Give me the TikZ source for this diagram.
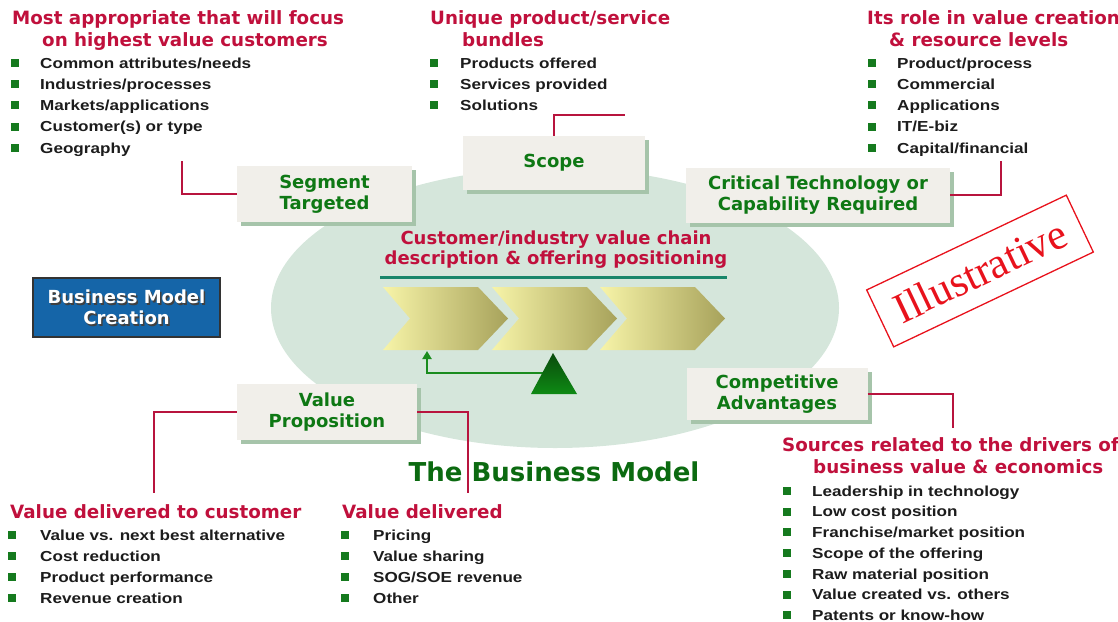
\documentclass[tikz,border=0pt]{standalone}
\usepackage{fontspec}
\setmainfont{DejaVu Sans}
\newfontfamily\listfont[FakeStretch=1.18]{Liberation Sans}
\newfontfamily\stampfont{Liberation Serif}
\usetikzlibrary{arrows.meta,shadows}
\definecolor{headred}{HTML}{C0103C}
\definecolor{linkred}{HTML}{B8143E}
\definecolor{labelgreen}{HTML}{0E7814}
\definecolor{titlegreen}{HTML}{0B6A10}
\definecolor{bulletgreen}{HTML}{157A1E}
\definecolor{listink}{HTML}{1C1C1C}
\definecolor{boxfill}{HTML}{F1EFEA}
\definecolor{boxshade}{HTML}{A6C4AA}
\definecolor{ovalfill}{HTML}{D5E6DB}
\definecolor{chainrule}{HTML}{17866A}
\definecolor{chainlight}{HTML}{F7F4A8}
\definecolor{chaindark}{HTML}{A7A25B}
\definecolor{pivotdark}{HTML}{0A4A0C}
\definecolor{pivotlight}{HTML}{0E8A14}
\definecolor{arrowgreen}{HTML}{1A8C1E}
\definecolor{creationblue}{HTML}{1565A8}
\definecolor{stampred}{HTML}{E8121C}

\begin{document}
\begin{tikzpicture}[x=1pt, y=-1pt,
    every node/.style={inner sep=0pt},
    heading/.style={headred, anchor=west, text height=13.3pt, text depth=0pt,
                    font=\bfseries\fontsize{18.3}{22}\selectfont},
    item/.style={listink, anchor=west, text height=10.4pt, text depth=0pt,
                 font=\listfont\bfseries\fontsize{14.5}{17}\selectfont},
    block/.style={fill=boxfill, text=labelgreen, align=center,
                  font=\bfseries\fontsize{18}{21}\selectfont,
                  drop shadow={shadow xshift=4pt, shadow yshift=-4pt,
                               fill=boxshade, opacity=1}},
    link/.style={linkred, line width=2pt}]

  \useasboundingbox (0,0) rectangle (1118,621);

  %% ---- the oval behind the model ----
  \fill[ovalfill] (555,308) ellipse [x radius=284, y radius=140];

  %% ---- value chain in the middle ----
  \node[headred, align=center, font=\bfseries\fontsize{18}{20}\selectfont]
    (chain-title) at (556,250)
    {Customer/industry value chain\\description \& offering positioning};
  \draw[chainrule, line width=3pt] (380,277) -- (727,277);

  \foreach \cx in {383,492,600}
    \shade[left color=chainlight, right color=chaindark]
      (\cx,287) -- ++(95,0) -- ++(30,31.5) -- ++(-30,31.5) -- ++(-95,0)
      -- ++(27,-31.5) -- cycle;

  %% feedback arrow, then the pivot on top of it
  \coordinate (pivot) at (553,373);
  \coordinate (chain-foot) at (427,351);
  \draw[arrowgreen, line width=2.5pt, -{Triangle[length=8pt, width=9pt]}]
    (pivot) -| (chain-foot);
  \shade[top color=pivotdark, bottom color=pivotlight]
    (553,353) -- (577,394) -- (531,394) -- cycle;

  %% ---- the five building blocks ----
  \node[block, minimum width=175pt, minimum height=56pt] (segment) at (324.5,194)
    {Segment\\Targeted};
  \node[block, minimum width=182pt, minimum height=54pt] (scope) at (554,163)
    {Scope};
  \node[block, minimum width=264pt, minimum height=55pt] (critical) at (818,195)
    {Critical Technology or\\Capability Required};
  \node[block, minimum width=180pt, minimum height=56pt] (value) at (327,412)
    {Value\\Proposition};
  \node[block, minimum width=181pt, minimum height=52pt] (compet) at (777,394)
    {Competitive\\Advantages};

  %% ---- red leader lines out to the lists ----
  \coordinate (seg-tail) at (182,161);
  \coordinate (scope-tail) at (625,115);
  \coordinate (crit-tail) at (1001,161);
  \coordinate (value-ltail) at (154,493);
  \coordinate (value-rtail) at (468,493);
  \coordinate (comp-tail) at (953,428);
  \draw[link] (segment.west) -| (seg-tail);
  \draw[link] (scope.north) |- (scope-tail);
  \draw[link] (critical.east) -| (crit-tail);
  \draw[link] (value.west) -| (value-ltail);
  \draw[link] (value.east) -| (value-rtail);
  \draw[link] (compet.east) -| (comp-tail);

  %% ---- top left list ----
  \node[heading] (seg-head1) at (12,18) {Most appropriate that will focus};
  \node[heading] (seg-head2) at (42,40) {on highest value customers};
  \foreach \txt [count=\i from 0] in {Common attributes/needs,
      Industries/processes, Markets/applications, Customer(s) or type, Geography}
  {
    \fill[bulletgreen] (11,{59+21.2*\i}) rectangle ++(8,8);
    \node[item] (seg-\i) at (40,{63+21.2*\i}) {\txt};
  }

  %% ---- top middle list ----
  \node[heading] (scope-head1) at (430,18) {Unique product/service};
  \node[heading] (scope-head2) at (462,40) {bundles};
  \foreach \txt [count=\i from 0] in {Products offered, Services provided, Solutions}
  {
    \fill[bulletgreen] (430,{59+21.2*\i}) rectangle ++(8,8);
    \node[item] (scope-\i) at (460,{63+21.2*\i}) {\txt};
  }

  %% ---- top right list ----
  \node[heading] (crit-head1) at (867,18) {Its role in value creation};
  \node[heading] (crit-head2) at (889,40) {\& resource levels};
  \foreach \txt [count=\i from 0] in {Product/process, Commercial, Applications,
      IT/E-biz, Capital/financial}
  {
    \fill[bulletgreen] (868,{59+21.2*\i}) rectangle ++(8,8);
    \node[item] (crit-\i) at (897,{63+21.2*\i}) {\txt};
  }

  %% ---- bottom left list ----
  \node[heading] (value-lhead) at (10,512) {Value delivered to customer};
  \foreach \txt [count=\i from 0] in {Value vs. next best alternative,
      Cost reduction, Product performance, Revenue creation}
  {
    \fill[bulletgreen] (8,{531+21*\i}) rectangle ++(8,8);
    \node[item] (value-l\i) at (40,{535+21*\i}) {\txt};
  }

  %% ---- bottom middle list ----
  \node[heading] (value-rhead) at (342,512) {Value delivered};
  \foreach \txt [count=\i from 0] in {Pricing, Value sharing, SOG/SOE revenue, Other}
  {
    \fill[bulletgreen] (341,{531+21*\i}) rectangle ++(8,8);
    \node[item] (value-r\i) at (373,{535+21*\i}) {\txt};
  }

  %% ---- bottom right list ----
  \node[heading] (comp-head1) at (782,445) {Sources related to the drivers of};
  \node[heading] (comp-head2) at (813,467) {business value \& economics};
  \foreach \txt [count=\i from 0] in {Leadership in technology, Low cost position,
      Franchise/market position, Scope of the offering, Raw material position,
      Value created vs. others, Patents or know-how}
  {
    \fill[bulletgreen] (783,{487+20.7*\i}) rectangle ++(8,8);
    \node[item] (comp-\i) at (812,{491+20.7*\i}) {\txt};
  }

  %% ---- caption under the oval ----
  \node[titlegreen, font=\bfseries\fontsize{26}{30}\selectfont]
    (title) at (554,472) {The Business Model};

  %% ---- blue tag on the left ----
  \node[fill=creationblue, draw=black!80, line width=1.2pt,
        minimum width=187pt, minimum height=59pt] (creation) at (126.5,307.5) {};
  \node[black!75, align=center, xshift=1.5pt, yshift=-1.5pt,
        font=\bfseries\fontsize{18}{21}\selectfont]
    (creation-shade) at (creation) {Business Model\\Creation};
  \node[white, align=center, font=\bfseries\fontsize{18}{21}\selectfont]
    (creation-text) at (creation) {Business Model\\Creation};

  %% ---- stamp ----
  \node[draw=stampred, line width=1.3pt, minimum width=221pt, minimum height=63pt,
        rotate=25.4, stampred, font=\stampfont\fontsize{43}{43}\selectfont]
    (stamp) at (980,271) {Illustrative};

\end{tikzpicture}
\end{document}
